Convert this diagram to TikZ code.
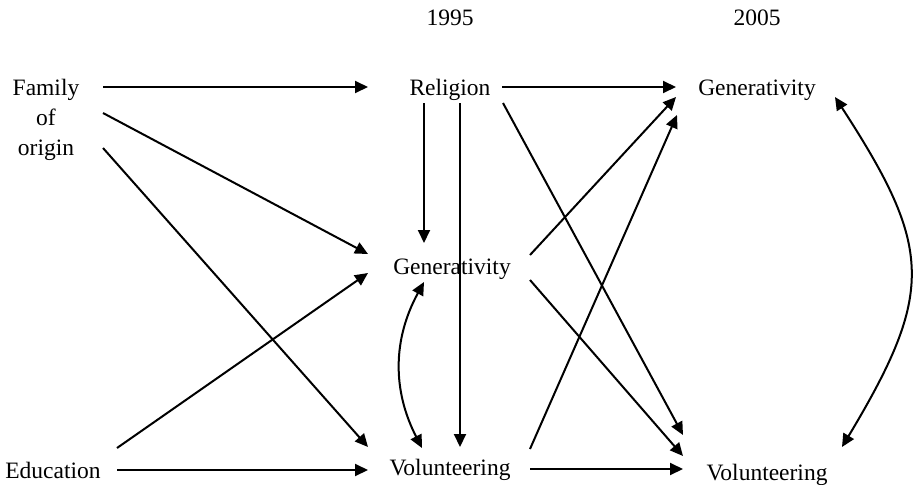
\documentclass[tikz,border=0pt]{standalone}
\usepackage{fontspec}
\setmainfont{Liberation Serif}
\usetikzlibrary{arrows.meta,calc}
\tikzset{
  var/.style={inner sep=0pt, align=center, text depth=0pt, font=\fontsize{23.5}{30}\selectfont},
  path/.style={line width=2pt, -{Triangle[length=13pt,width=12pt]}},
  both/.style={line width=2pt, {Triangle[length=13pt,width=12pt]}-{Triangle[length=13pt,width=12pt]}}
}
\begin{document}
\begin{tikzpicture}[x=1pt, y=-1pt]
        \useasboundingbox (0,0) rectangle (914,485);
        % waves
        \node[var] (y95) at (450,18) {1995};
        \node[var] (y05) at (757,18) {2005};
        % variables
        \node[var] (fam) at (46,117) {Family\\of\\origin};
        \node[var] (edu) at (53,470) {Education};
        \node[var] (rel) at (450,87) {Religion};
        \node[var] (gen1) at (452,267) {Generativity};
        \node[var] (vol1) at (450,467) {Volunteering};
        \node[var] (gen2) at (757,88) {Generativity};
        \node[var] (vol2) at (767,472) {Volunteering};
        % paths from background variables
        \draw[path] ($(fam)+(57,-30)$) -- ($(rel)+(-82,0)$);
        \draw[path] ($(fam)+(57,-4)$) -- ($(gen1)+(-84,-13)$);
        \draw[path] ($(fam)+(57,31)$) -- ($(vol1)+(-82,-20)$);
        \draw[path] ($(edu)+(64,-22)$) -- ($(gen1)+(-84,6)$);
        \draw[path] ($(edu)+(64,0)$) -- ($(vol1)+(-82,3)$);
        % paths within 1995
        \draw[path] ($(rel)+(-26,16)$) -- ($(gen1)+(-28,-24)$);
        \draw[path] ($(rel)+(10,16)$) -- ($(vol1)+(10,-20)$);
        \draw[both] ($(gen1)+(-28,15)$) to[bend right=28] ($(vol1)+(-28,-19)$);
        % paths to 2005
        \draw[path] ($(rel)+(52,0)$) -- ($(gen2)+(-81,-1)$);
        \draw[path] ($(rel)+(53,16)$) -- ($(vol2)+(-84,-37)$);
        \draw[path] ($(gen1)+(78,-12)$) -- ($(gen2)+(-81,9)$);
        \draw[path] ($(gen1)+(78,13)$) -- ($(vol2)+(-84,-16)$);
        \draw[path] ($(vol1)+(80,-18)$) -- ($(gen2)+(-80,27)$);
        \draw[path] ($(vol1)+(80,2)$) -- ($(vol2)+(-84,-3)$);
        \draw[both] ($(gen2)+(78,9)$) .. controls ($(gen2)+(176,160)$) and ($(vol2)+(168,-180)$) .. ($(vol2)+(75,-25)$);
\end{tikzpicture}
\end{document}
